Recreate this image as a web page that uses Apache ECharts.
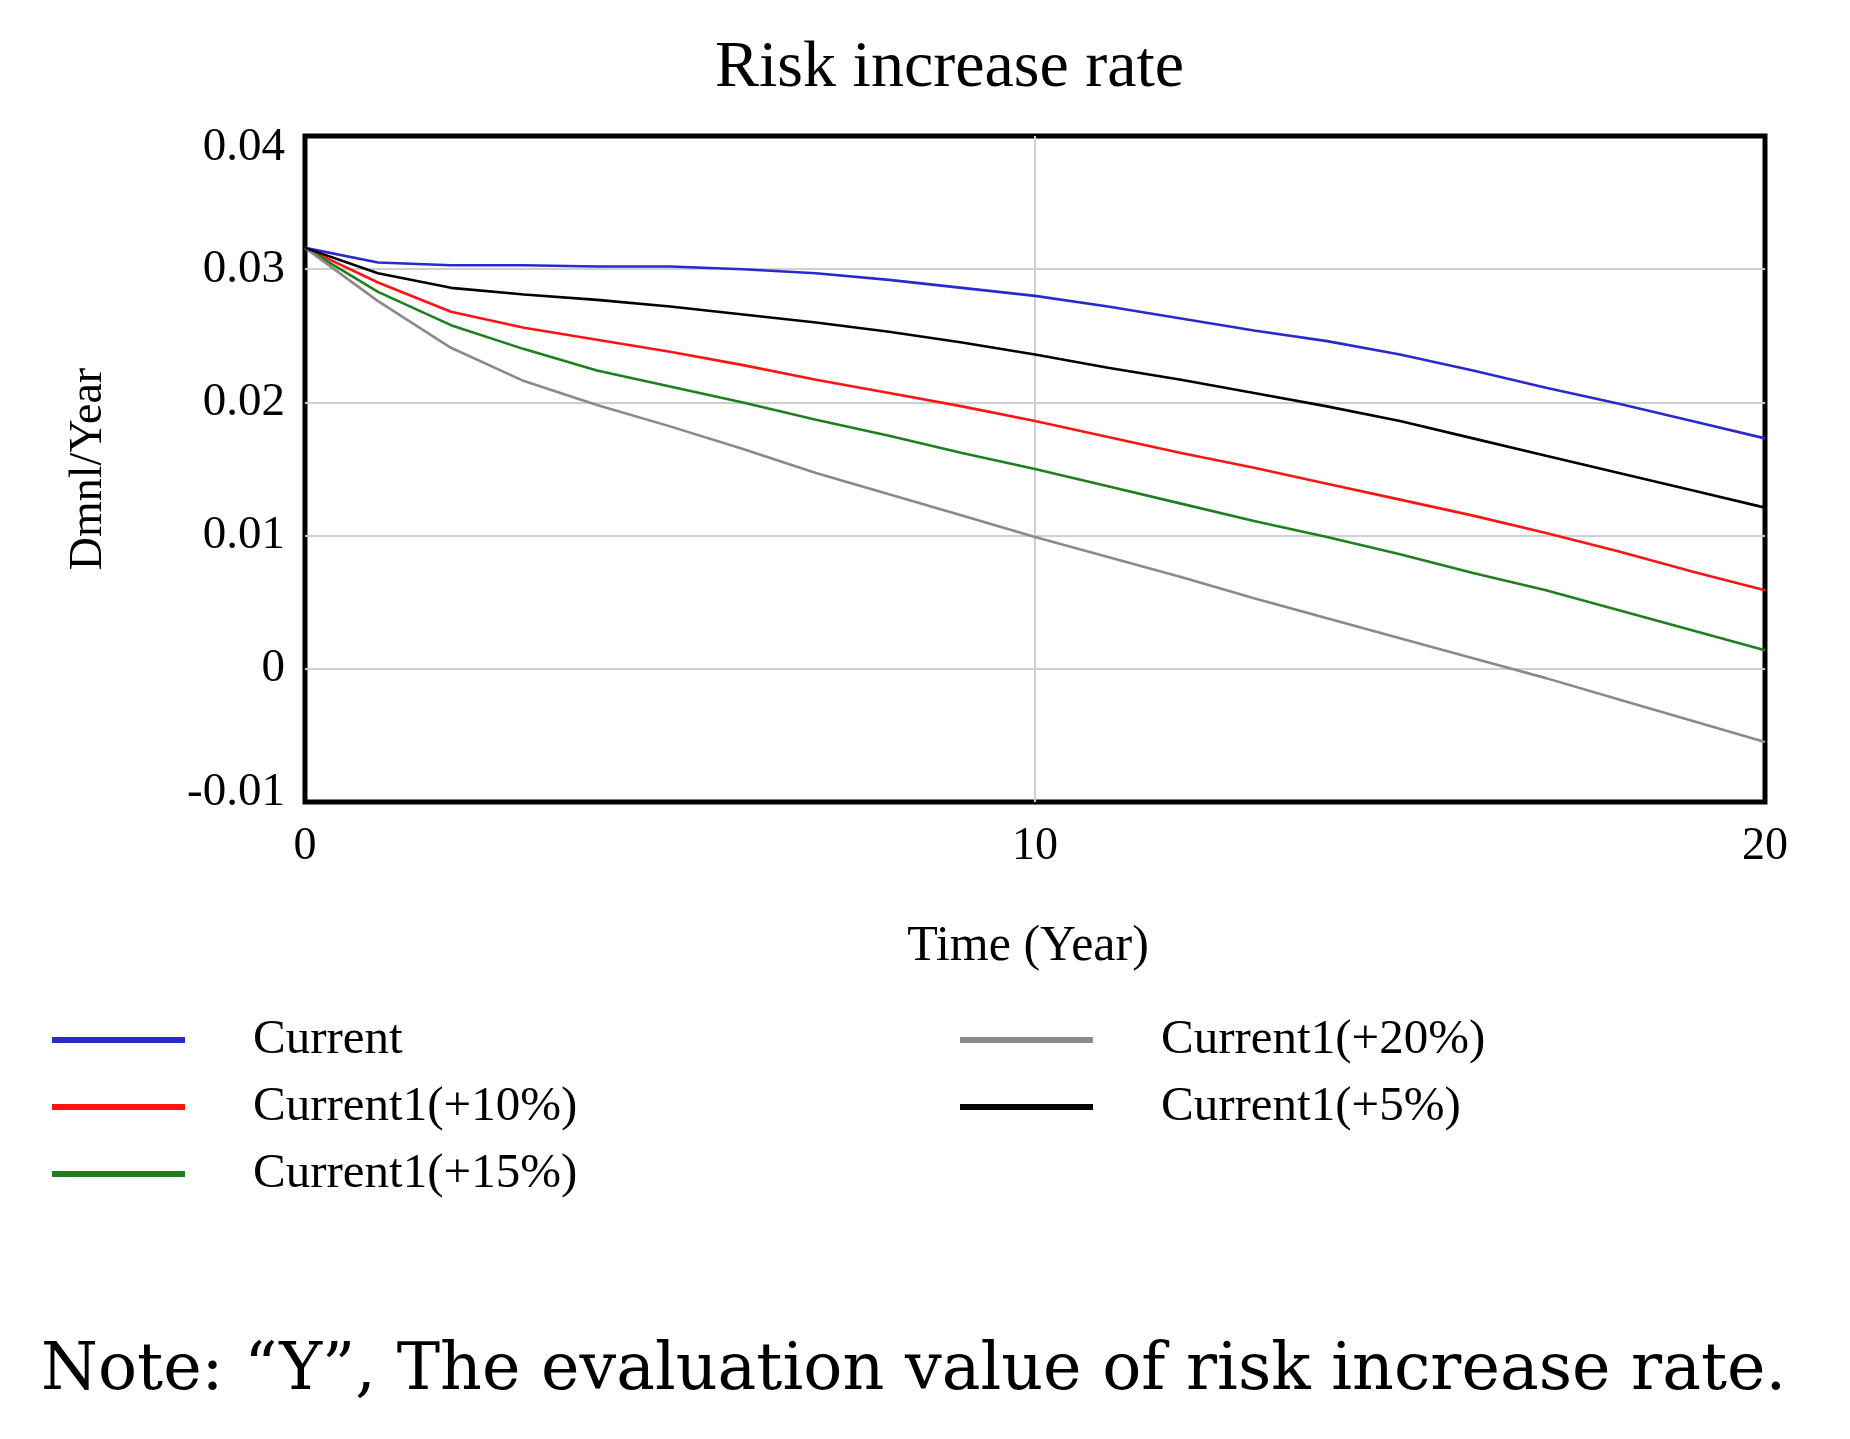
<!DOCTYPE html>
<html>
<head>
<meta charset="utf-8">
<script src="https://cdn.jsdelivr.net/npm/echarts@6/dist/echarts.min.js"></script>
<style>html,body{margin:0;padding:0;background:#fff;}#c{width:1850px;height:1439px;}</style>
</head>
<body>
<div id="c"></div>
<script>
const years = [0,1,2,3,4,5,6,7,8,9,10,11,12,13,14,15,16,17,18,19,20];
const xTicks = [0, 10, 20];
const yTicks = [-0.01, 0, 0.01, 0.02, 0.03, 0.04];
const current   = [0.0316,0.0305,0.0303,0.0303,0.0302,0.0302,0.0300,0.0297,0.0292,0.0286,0.0280,0.0272,0.0263,0.0254,0.0246,0.0236,0.0224,0.0211,0.0199,0.0186,0.0173];
const plus5     = [0.0316,0.0297,0.0286,0.0281,0.0277,0.0272,0.0266,0.0260,0.0253,0.0245,0.0236,0.0226,0.0217,0.0207,0.0197,0.0186,0.0173,0.0160,0.0147,0.0134,0.0121];
const plus10    = [0.0316,0.0290,0.0268,0.0256,0.0247,0.0238,0.0228,0.0217,0.0207,0.0197,0.0186,0.0174,0.0162,0.0151,0.0139,0.0127,0.0115,0.0102,0.0088,0.0073,0.0059];
const plus15    = [0.0316,0.0283,0.0258,0.0240,0.0224,0.0212,0.0200,0.0187,0.0175,0.0162,0.0150,0.0137,0.0124,0.0111,0.0099,0.0086,0.0072,0.0059,0.0044,0.0029,0.0014];
const plus20    = [0.0316,0.0276,0.0241,0.0216,0.0198,0.0182,0.0165,0.0147,0.0131,0.0115,0.0099,0.0084,0.0069,0.0053,0.0038,0.0023,0.0008,-0.0007,-0.0023,-0.0039,-0.0055];
const seriesNames = ['Current','Current1(+10%)','Current1(+15%)','Current1(+20%)','Current1(+5%)'];
const seriesData = [current, plus10, plus15, plus20, plus5];
const seriesColors = ['#2a2acc','#ff1414','#1f7f1f','#8a8a8a','#000000'];
const titleText = 'Risk increase rate';
const noteText = 'Note: \u201cY\u201d, The evaluation value of risk increase rate.';

const FONT = '"Liberation Serif", "Times New Roman", serif';
const chart = echarts.init(document.getElementById('c'), null, {renderer: 'canvas'});

const series = seriesNames.map((n, i) => ({
  name: n,
  type: 'line',
  data: years.map((y, k) => [y, seriesData[i][k]]),
  showSymbol: false,
  symbol: 'none',
  smooth: false,
  lineStyle: {color: seriesColors[i], width: 2.6},
  itemStyle: {color: seriesColors[i]},
  z: 3
}));

const legendCommon = {
  orient: 'vertical',
  icon: 'rect',
  itemWidth: 133,
  itemHeight: 6,
  itemGap: 11,
  selectedMode: false,
  textStyle: {fontFamily: FONT, fontSize: 49, color: '#000', lineHeight: 56, padding: [0,0,0,63]}
};

const yLabelFormat = v => {
  const r = Math.round(v * 100) / 100;
  const s = r === 0 ? '0' : String(r);
  if (r === yTicks[yTicks.length - 1]) return '{top|' + s + '}';
  if (r === yTicks[0]) return '{bot|' + s + '}';
  return s;
};

chart.setOption({
  animation: false,
  backgroundColor: '#ffffff',
  grid: {left: 305, right: 85, top: 136, bottom: 637, show: true, borderColor: '#000', borderWidth: 5, backgroundColor: 'transparent'},
  xAxis: {
    type: 'value', min: 0, max: 20, interval: 10,
    name: 'Time (Year)', nameLocation: 'middle', nameGap: 120,
    nameTextStyle: {fontFamily: FONT, fontSize: 50, color: '#000', padding: [0, 14, 0, 0]},
    axisLine: {show: false}, axisTick: {show: false},
    axisLabel: {fontFamily: FONT, fontSize: 46, color: '#000', margin: 22},
    splitLine: {show: true, showMinLine: false, showMaxLine: false, lineStyle: {color: '#cfcfcf', width: 2}}
  },
  yAxis: {
    type: 'value', min: -0.01, max: 0.04, interval: 0.01,
    name: 'Dmnl/Year', nameLocation: 'middle', nameGap: 193,
    nameTextStyle: {fontFamily: FONT, fontSize: 46, color: '#000'},
    axisLine: {show: false}, axisTick: {show: false},
    axisLabel: {fontFamily: FONT, fontSize: 47, color: '#000', margin: 20,
      formatter: yLabelFormat,
      rich: {
        top: {fontFamily: FONT, fontSize: 47, color: '#000', padding: [24, 0, 0, 0]},
        bot: {fontFamily: FONT, fontSize: 47, color: '#000', padding: [0, 0, 18, 0]}
      }},
    splitLine: {show: true, showMinLine: false, showMaxLine: false, lineStyle: {color: '#cfcfcf', width: 2}}
  },
  legend: [
    Object.assign({}, legendCommon, {left: 47, top: 1007, data: seriesNames.slice(0, 3)}),
    Object.assign({}, legendCommon, {left: 955, top: 1007, data: seriesNames.slice(3)})
  ],
  graphic: [
    {type: 'text', left: 715, top: 36, style: {text: titleText, fontFamily: FONT, fontSize: 66, fill: '#000'}},
    {type: 'text', left: 41, top: 1340, style: {text: noteText, fontFamily: '"DejaVu Serif", serif', fontSize: 65, fill: '#000'}}
  ],
  series: series
});
</script>
</body>
</html>
